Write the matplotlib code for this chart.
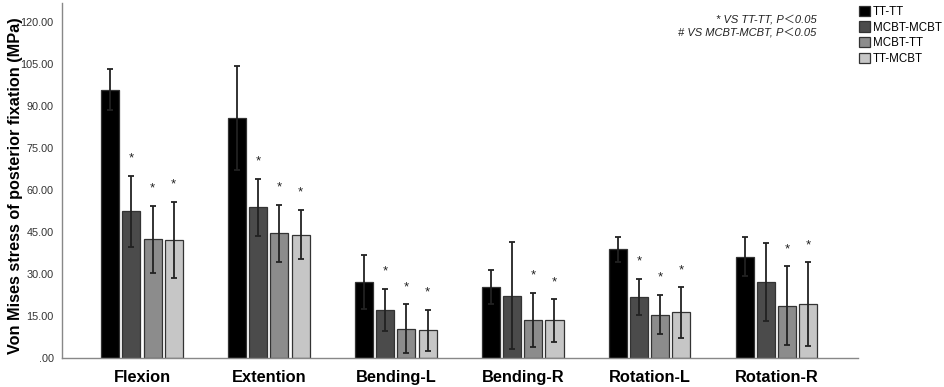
import numpy as np
import matplotlib
matplotlib.use('Agg')
from matplotlib import pyplot as plt
from matplotlib.ticker import FuncFormatter

plt.rcParams['font.family'] = ['Liberation Sans', 'Noto Sans CJK SC', 'DejaVu Sans']

# data
categories = ['Flexion', 'Extention', 'Bending-L', 'Bending-R', 'Rotation-L', 'Rotation-R']
groups = ['TT-TT', 'MCBT-MCBT', 'MCBT-TT', 'TT-MCBT']

tt_tt = [95.9, 85.9, 27.1, 25.5, 38.8, 36.2]
mcbt_mcbt = [52.4, 53.8, 17.3, 22.3, 21.8, 27.1]
mcbt_tt = [42.4, 44.5, 10.5, 13.6, 15.5, 18.7]
tt_mcbt = [42.1, 44.1, 9.9, 13.4, 16.3, 19.2]

tt_tt_sd = [7.2, 18.6, 9.6, 6.1, 4.4, 7.0]
mcbt_mcbt_sd = [12.6, 10.3, 7.5, 19.1, 6.4, 14.0]
mcbt_tt_sd = [11.9, 10.3, 8.7, 9.6, 7.0, 14.1]
tt_mcbt_sd = [13.6, 8.9, 7.4, 7.6, 9.0, 15.0]

# significance marks (* vs TT-TT)
mcbt_mcbt_sig = [1, 1, 1, 0, 1, 0]
mcbt_tt_sig = [1, 1, 1, 1, 1, 1]
tt_mcbt_sig = [1, 1, 1, 1, 1, 1]

yticks = [0, 15, 30, 45, 60, 75, 90, 105, 120]

means = [tt_tt, mcbt_mcbt, mcbt_tt, tt_mcbt]
sds = [tt_tt_sd, mcbt_mcbt_sd, mcbt_tt_sd, tt_mcbt_sd]
sigs = [None, mcbt_mcbt_sig, mcbt_tt_sig, tt_mcbt_sig]
colors = ['#000000', '#4b4b4b', '#8c8c8c', '#c6c6c6']

fig = plt.figure(figsize=(9.45, 3.87), dpi=100)
ax = fig.add_axes([0.0656, 0.075, 0.8424, 0.917])

x = np.arange(len(categories))
w = 0.142
step = 0.166
for i in range(4):
    xs = x + (i - 1.5) * step
    ax.bar(xs, means[i], width=w, color=colors[i], edgecolor='#333333',
           linewidth=0.9, label=groups[i], zorder=2)
    ax.errorbar(xs, means[i], yerr=sds[i], fmt='none', ecolor='#222222',
                elinewidth=1.3, capsize=2.2, capthick=1.3, zorder=3)
    if sigs[i] is not None:
        for xx, m, s, g in zip(xs, means[i], sds[i], sigs[i]):
            if g:
                ax.text(xx, m + s + 4.0, '*', ha='center', va='bottom',
                        fontsize=9.5, color='#222222')

ax.set_xlim(-0.63, 5.64)
ax.set_ylim(0, 126.8)
ax.set_yticks(yticks)
ax.yaxis.set_major_formatter(FuncFormatter(lambda v, p: ('%.2f' % v).lstrip('0') if v < 1 else '%.2f' % v))
ax.tick_params(axis='y', length=0, labelsize=7.8, labelcolor='#333333', pad=6)
ax.set_xticks(x)
ax.set_xticklabels(categories, fontsize=11.8, fontweight='bold')
ax.tick_params(axis='x', length=0, pad=9)

for s in ['top', 'right']:
    ax.spines[s].set_visible(False)
for s in ['left', 'bottom']:
    ax.spines[s].set_color('#888888')
    ax.spines[s].set_linewidth(1.0)

ax.set_ylabel('Von Mises stress of posterior fixation (MPa)', fontsize=11.7,
              fontweight='bold')
ax.yaxis.set_label_coords(-0.049, 0.485)

ax.text(0.948, 0.955, '* VS TT-TT, P\uff1c0.05', transform=ax.transAxes,
        ha='right', va='center', fontsize=8, style='italic', color='#222222')
ax.text(0.948, 0.917, '# VS MCBT-MCBT, P\uff1c0.05', transform=ax.transAxes,
        ha='right', va='center', fontsize=8, style='italic', color='#222222')

leg = ax.legend(loc='upper left', bbox_to_anchor=(0.995, 1.005), frameon=False,
                fontsize=8.3, handlelength=1.0, handleheight=1.0, handletextpad=0.2,
                labelspacing=0.3, borderaxespad=0)

fig.savefig('out.png', dpi=100)
